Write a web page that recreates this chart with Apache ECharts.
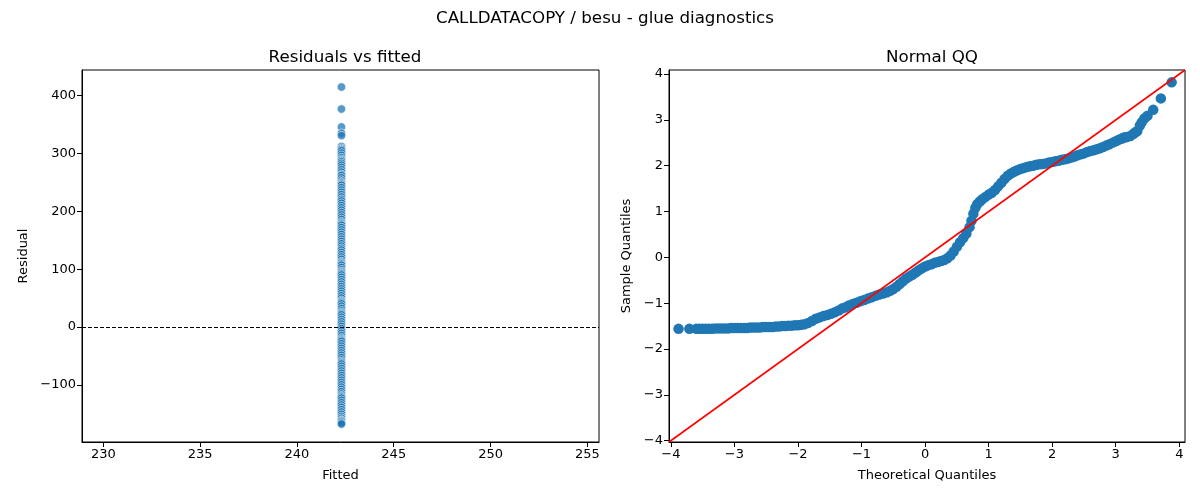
<!DOCTYPE html>
<html>
<head>
<meta charset="utf-8">
<title>CALLDATACOPY / besu - glue diagnostics</title>
<script src="https://cdn.jsdelivr.net/npm/echarts@6/dist/echarts.min.js"></script>
<style>
  html, body { margin: 0; padding: 0; background: #fff; }
  #chart { width: 1200px; height: 500px; }
</style>
</head>
<body>
<div id="chart"></div>
<script>
// residuals vs fitted: every point sits at the same fitted value
const fittedValue = 242.3;
const residuals = [
  415, 377, 346, 335, 331, 312, 309, 307, 305, 301, 297, 293, 290, 288, 286,
  283, 280, 276, 272, 268, 264, 262, 258, 254, 251, 249, 247, 245, 241, 237,
  233, 229, 225, 221, 218, 214, 210, 206, 202, 198, 194, 190, 186, 182, 180,
  178, 176, 172, 168, 164, 160, 156, 152, 148, 144, 140, 136, 133, 129, 125,
  121, 117, 113, 111, 109, 107, 103, 99, 96, 94, 92, 90, 86, 82, 78, 74, 70,
  66, 62, 58, 54, 50, 46, 44, 42, 40, 36, 32, 28, 25, 23, 21, 17, 13, 9, 5,
  1, -3, -7, -11, -15, -19, -21, -23, -25, -29, -33, -37, -41, -45, -49, -53,
  -57, -60, -62, -64, -68, -72, -76, -80, -84, -88, -92, -96, -100, -104,
  -108, -112, -116, -119, -121, -123, -127, -131, -135, -139, -143, -147,
  -151, -155, -158, -161, -162, -164, -166, -168
];

// normal QQ: theoretical vs sample quantiles
const qqTheoretical = [
  -3.88, -3.71, -3.60, -3.55, -3.50, -3.45, -3.40, -3.35, -3.30, -3.25,
  -3.20, -3.15, -3.10, -3.05, -3.00, -2.95, -2.90, -2.85, -2.80, -2.75,
  -2.70, -2.65, -2.60, -2.55, -2.50, -2.45, -2.40, -2.35, -2.30, -2.25,
  -2.20, -2.15, -2.10, -2.05, -2.00, -1.95, -1.90, -1.84, -1.78, -1.72,
  -1.66, -1.60, -1.54, -1.48, -1.42, -1.36, -1.30, -1.25, -1.20, -1.14,
  -1.08, -1.02, -0.96, -0.90, -0.84, -0.78, -0.72, -0.66, -0.60, -0.55,
  -0.50, -0.45, -0.40, -0.35, -0.30, -0.25, -0.20, -0.15, -0.10, -0.05,
  0.00, 0.05, 0.10, 0.15, 0.20, 0.25, 0.30, 0.35, 0.40, 0.45,
  0.50, 0.55, 0.60, 0.65, 0.70, 0.73, 0.76, 0.79, 0.82, 0.86,
  0.90, 0.95, 1.00, 1.05, 1.10, 1.15, 1.20, 1.25, 1.30, 1.35,
  1.40, 1.45, 1.50, 1.55, 1.60, 1.65, 1.70, 1.75, 1.80, 1.85,
  1.90, 1.95, 2.00, 2.05, 2.10, 2.15, 2.20, 2.25, 2.30, 2.35,
  2.40, 2.45, 2.50, 2.55, 2.60, 2.65, 2.70, 2.75, 2.80, 2.85,
  2.90, 2.96, 3.01, 3.05, 3.09, 3.12, 3.15, 3.18, 3.23, 3.28,
  3.31, 3.34, 3.38, 3.41, 3.45, 3.50, 3.59, 3.71, 3.88
];
const qqSample = [
  -1.56, -1.56, -1.56, -1.56, -1.56, -1.56, -1.56, -1.56, -1.55, -1.55,
  -1.55, -1.55, -1.55, -1.54, -1.54, -1.54, -1.54, -1.54, -1.54, -1.53,
  -1.53, -1.53, -1.53, -1.52, -1.52, -1.52, -1.52, -1.51, -1.51, -1.50,
  -1.50, -1.49, -1.49, -1.48, -1.48, -1.47, -1.46, -1.43, -1.39, -1.34,
  -1.31, -1.28, -1.26, -1.23, -1.20, -1.16, -1.11, -1.09, -1.05, -1.02,
  -0.99, -0.96, -0.93, -0.90, -0.87, -0.84, -0.81, -0.79, -0.76, -0.73,
  -0.69, -0.64, -0.58, -0.52, -0.46, -0.42, -0.38, -0.33, -0.28, -0.24,
  -0.20, -0.17, -0.15, -0.12, -0.10, -0.08, -0.06, -0.02, 0.04, 0.13,
  0.23, 0.33, 0.42, 0.52, 0.66, 0.80, 0.95, 1.08, 1.16, 1.22,
  1.27, 1.32, 1.37, 1.41, 1.47, 1.55, 1.63, 1.71, 1.78, 1.83,
  1.87, 1.90, 1.93, 1.95, 1.97, 1.99, 2.00, 2.02, 2.03, 2.04,
  2.05, 2.07, 2.08, 2.10, 2.11, 2.13, 2.14, 2.16, 2.18, 2.20,
  2.23, 2.25, 2.27, 2.30, 2.32, 2.34, 2.36, 2.38, 2.41, 2.44,
  2.47, 2.51, 2.54, 2.57, 2.59, 2.61, 2.62, 2.63, 2.65, 2.70,
  2.73, 2.76, 2.88, 2.95, 3.03, 3.09, 3.22, 3.47, 3.82
];

// 45 degree reference line ends
const refLine = [-4.03, 4.09];

const fittedTicks = [230, 235, 240, 245, 250, 255];
const residualTicks = [-100, 0, 100, 200, 300, 400];
const quantileTicks = [-4, -3, -2, -1, 0, 1, 2, 3, 4];

const font = 'DejaVu Sans';

function valueAxis(min, max, ticks, name, gap, rot) {
  return {
    type: 'value',
    min: min,
    max: max,
    name: name,
    nameLocation: 'middle',
    nameGap: gap,
    nameRotate: rot,
    nameTextStyle: { fontFamily: font, fontSize: 13, color: '#000' },
    axisLine: { show: true, onZero: false, lineStyle: { color: '#000', width: 1 } },
    axisTick: { show: true, length: 5, customValues: ticks, lineStyle: { color: '#000' } },
    axisLabel: { customValues: ticks, fontFamily: font, fontSize: 13, color: '#000', margin: 6,
      formatter: v => String(v).replace('-', '\u2212') },
    splitLine: { show: false }
  };
}

const chart = echarts.init(document.getElementById('chart'));

chart.setOption({
  animation: false,
  backgroundColor: '#fff',
  title: [
    { text: 'CALLDATACOPY / besu - glue diagnostics', left: 600, top: 5, textAlign: 'center',
      textStyle: { fontFamily: font, fontSize: 16.7, fontWeight: 'normal', color: '#000' } },
    { text: 'Residuals vs fitted', left: 340, top: 44, textAlign: 'center',
      textStyle: { fontFamily: font, fontSize: 16.7, fontWeight: 'normal', color: '#000' } },
    { text: 'Normal QQ', left: 927, top: 44, textAlign: 'center',
      textStyle: { fontFamily: font, fontSize: 16.7, fontWeight: 'normal', color: '#000' } }
  ],
  grid: [
    { left: 82, top: 70, width: 517, height: 372, show: true, borderColor: '#000', borderWidth: 1 },
    { left: 669, top: 70, width: 516, height: 372, show: true, borderColor: '#000', borderWidth: 1 }
  ],
  xAxis: [
    Object.assign(valueAxis(228.9, 255.6, fittedTicks, 'Fitted', 27, 0), { gridIndex: 0 }),
    Object.assign(valueAxis(-4.03, 4.09, quantileTicks, 'Theoretical Quantiles', 27, 0), { gridIndex: 1 })
  ],
  yAxis: [
    Object.assign(valueAxis(-199, 444.5, residualTicks, 'Residual', 52, 90), { gridIndex: 0 }),
    Object.assign(valueAxis(-4.03, 4.09, quantileTicks, 'Sample Quantiles', 36, 90), { gridIndex: 1 })
  ],
  series: [
    {
      type: 'scatter',
      xAxisIndex: 0, yAxisIndex: 0,
      data: residuals.map(r => [fittedValue, r]),
      symbolSize: 8.5,
      itemStyle: { color: '#1f77b4', opacity: 0.75, borderColor: '#fff', borderWidth: 0.8 },
      markLine: {
        silent: true,
        symbol: 'none',
        label: { show: false },
        lineStyle: { color: '#000', width: 1, type: [4, 2] },
        data: [{ yAxis: 0 }]
      },
      z: 2
    },
    {
      type: 'scatter',
      xAxisIndex: 1, yAxisIndex: 1,
      data: qqTheoretical.map((t, i) => [t, qqSample[i]]),
      symbolSize: 10.5,
      itemStyle: { color: '#1f77b4', opacity: 1 },
      z: 2
    },
    {
      type: 'line',
      xAxisIndex: 1, yAxisIndex: 1,
      data: refLine.map(v => [v, v]),
      symbol: 'none',
      lineStyle: { color: '#ff0000', width: 1.6 },
      z: 3
    }
  ]
});
</script>
</body>
</html>
